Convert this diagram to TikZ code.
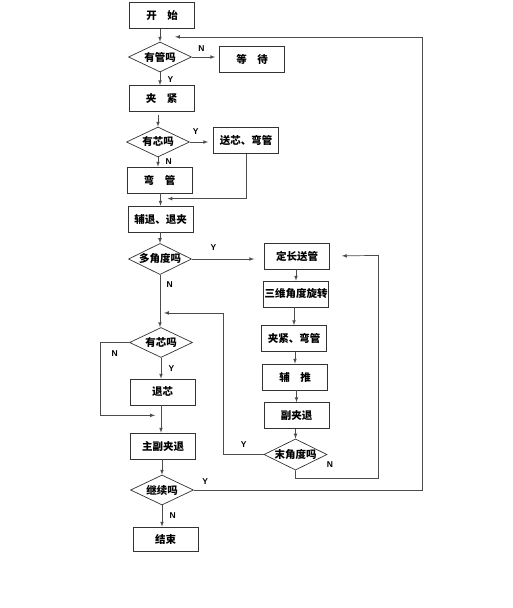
\documentclass[tikz,border=0pt]{standalone}
\usepackage{fontspec}
\newfontfamily\cjk{Noto Sans CJK SC}
\setsansfont{Liberation Sans}
\usepackage{tikz}
\usetikzlibrary{arrows, shapes.geometric, calc}

\begin{document}
\begin{tikzpicture}[x=1pt, y=-1pt,
    box/.style={draw=black!80, line width=0.7pt, minimum width=65pt, minimum height=26pt, inner sep=0pt, font=\cjk\bfseries\fontsize{10.5pt}{12pt}\selectfont},
    decide/.style={diamond, draw=black!80, line width=0.7pt, aspect=2, minimum width=63pt, minimum height=30pt, inner sep=0pt, font=\cjk\bfseries\fontsize{10.5pt}{12pt}\selectfont},
    flow/.style={draw=black!70, line width=0.7pt, -latex},
    yn/.style={font=\sffamily\bfseries\fontsize{8.5pt}{9pt}\selectfont}]
    \useasboundingbox (0,0) rectangle (512,608);

    % left column
    \node[box] (start) at (162,15.5) {开\quad 始};
    \node[decide] (tube) at (160,57) {有管吗};
    \node[box] (wait) at (252,59) {等\quad 待};
    \node[box] (clamp) at (161.5,98.5) {夹\quad 紧};
    \node[decide] (core) at (158,142) {有芯吗};
    \node[box] (feedbend) at (246,140.5) {送芯、弯管};
    \node[box] (bend) at (159.5,180) {弯\quad 管};
    \node[box] (back) at (160.5,219) {辅退、退夹};
    \node[decide] (multi) at (160,259) {多角度吗};
    \node[decide] (core2) at (161,342.5) {有芯吗};
    \node[box] (coreout) at (162.5,392) {退芯};
    \node[box] (bothback) at (163,446) {主副夹退};
    \node[decide] (goon) at (162,490) {继续吗};
    \node[box, minimum height=24pt] (stop) at (165.5,539) {结束};

    % right column
    \node[box] (feedlen) at (297,256) {定长送管};
    \node[box] (turn) at (296,294) {三维角度旋转};
    \node[box] (clampbend) at (294,338.5) {夹紧、弯管};
    \node[box] (push) at (295,377) {辅\quad 推};
    \node[box] (subback) at (296.5,415.5) {副夹退};
    \node[decide] (last) at (295.5,454.5) {末角度吗};

    % main flow
    \draw[flow] (start.south -| tube) -- (tube.north);
    \draw[flow, shorten >=4pt] (tube.east) -- node[yn, above=2pt, pos=0.35]{N} (tube.east -| wait.west);
    \draw[flow] (tube.south) -- node[yn, right=4pt, pos=0.6]{Y} (tube.south |- clamp.north);
    \draw[flow, shorten <=3pt] (clamp.south -| core) -- (core.north);
    \draw[flow, shorten >=5pt] (core.east) -- node[yn, above=4pt, pos=0.25]{Y} (core.east -| feedbend.west);
    \draw[flow] (core.south) -- node[yn, right=4pt, pos=0.5]{N} (core.south |- bend.north);
    \draw[flow] (bend.south -| back) -- (back.north);
    \draw[flow] (feedbend.south) |- ($(back.north)+(7,-7)$);
    \draw[flow] (back.south -| multi) -- (multi.north);
    \draw[flow, shorten >=10pt] (multi.east) -- node[yn, above=5pt, pos=0.3]{Y} (multi.east -| feedlen.west);
    \draw[flow] (multi.south) -- node[yn, right=3pt, pos=0.18]{N} (multi.south |- core2.north);
    \draw[flow] (core2.south) -- node[yn, right=4pt, pos=0.5]{Y} (core2.south |- coreout.north);
    \draw[flow] (coreout.south -| core2) -- (core2 |- bothback.north);
    \draw[flow] (bothback.south -| goon) -- (goon.north);
    \draw[flow] (goon.south) -- node[yn, right=4pt, pos=0.5]{N} (goon.south |- stop.north);

    % right column flow
    \draw[flow] (feedlen.south -| turn) -- (turn.north);
    \draw[flow] (turn.south -| clampbend) -- (clampbend.north);
    \draw[flow] (clampbend.south -| push) -- (push.north);
    \draw[flow] (push.south -| subback) -- (subback.north);
    \draw[flow] (subback.south -| last) -- (last.north);

    % loops
    \coordinate (nocore) at ($(core2.south |- coreout.south)+(0,10)$);
    \draw[flow, shorten >=6pt] (core2.west) -- node[yn, below, pos=0.5, yshift=-4pt]{N} ++(-29,0) |- (nocore);
    \coordinate (again) at ($(multi.south)+(0,38)$);
    \draw[flow, shorten >=4pt] (last.west) -- node[yn, above, pos=0.5, yshift=3pt]{Y} ++(-40,0) |- (again);
    \draw[flow, shorten >=12pt] (last.south) -- ++(0,8) -| ++(83,-223) -- (feedlen.east);
    \node[yn] (lastn) at (330,465) {N};
    \coordinate (top) at ($(start.south -| tube)+(0,8)$);
    \draw[flow, shorten >=15pt] (goon.east) -- node[yn, above=2pt, pos=0.05]{Y} (goon.east -| 422,0) |- (top);
\end{tikzpicture}
\end{document}
